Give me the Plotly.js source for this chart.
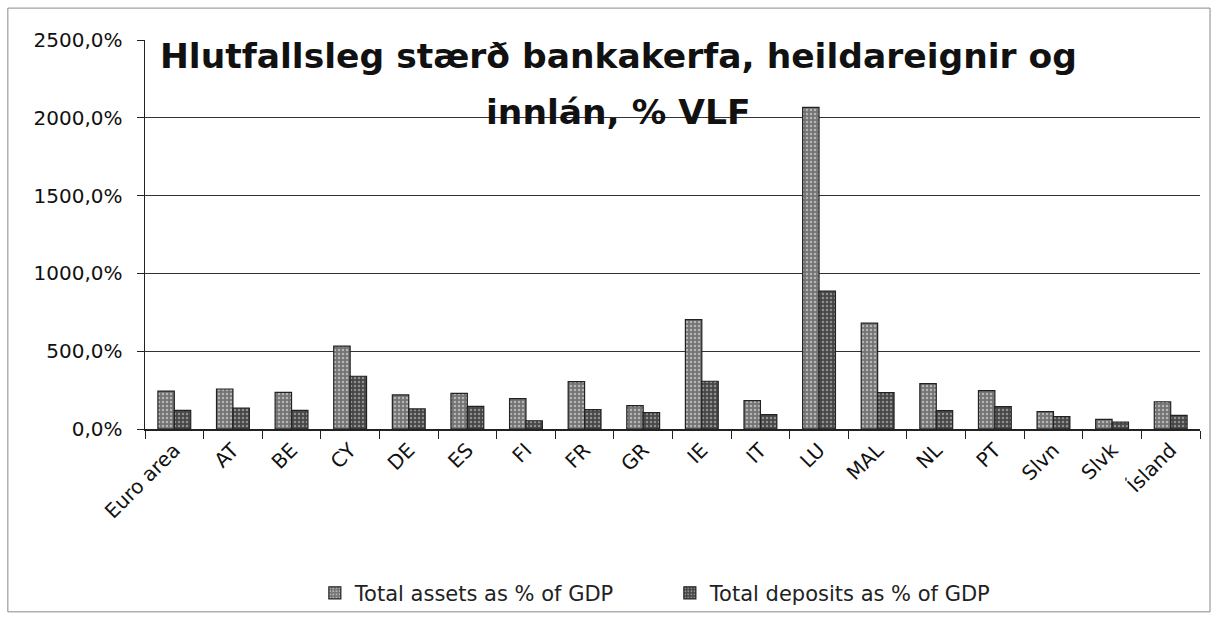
<!DOCTYPE html>
<html>
<head>
<meta charset="utf-8">
<script src="https://cdn.plot.ly/plotly-3.0.1.min.js"></script>
<style>html,body{margin:0;padding:0;background:#fff;}#chart{width:1219px;height:619px;}</style>
</head>
<body>
<div id="chart"></div>
<script>
const categories = ["Euro area","AT","BE","CY","DE","ES","FI","FR","GR","IE","IT","LU","MAL","NL","PT","Slvn","Slvk","Ísland"];
const totalAssets = [244,257,236,532,219,229,195,304,150,703,182,2067,680,292,247,112,62,175];
const totalDeposits = [120,135,120,339,129,146,53,124,105,307,92,887,234,118,144,80,45,88];
const seriesNames = ["Total assets as % of GDP","Total deposits as % of GDP"];
const yTicks = [0,500,1000,1500,2000,2500];
const yTickText = yTicks.map(v => v.toFixed(1).replace(".", ",") + "%");
const titleLines = ["Hlutfallsleg stærð bankakerfa, heildareignir og", "innlán, % VLF"];

const font = "'DejaVu Sans', sans-serif";
const data = [
  {type:"bar", name:seriesNames[0], x:categories, y:totalAssets,
   marker:{color:"#858585", line:{color:"#222", width:1.2}, pattern:{shape:".", fgcolor:"#b5b5b5", bgcolor:"#747474", size:4, solidity:0.3}}},
  {type:"bar", name:seriesNames[1], x:categories, y:totalDeposits,
   marker:{color:"#555555", line:{color:"#222", width:1.2}, pattern:{shape:".", fgcolor:"#909090", bgcolor:"#474747", size:4, solidity:0.3}}}
];
const layout = {
  width:1219, height:619,
  margin:{l:145, r:19, t:40, b:190, autoexpand:false},
  paper_bgcolor:"#fff", plot_bgcolor:"#fff",
  font:{family:font, color:"#111", size:20},
  bargap:0.44, bargroupgap:0,
  showlegend:true,
  legend:{orientation:"h", x:0.161, xanchor:"left", y:-0.422, yanchor:"middle", bgcolor:"rgba(0,0,0,0)", font:{size:21, color:"#222"}, traceorder:"normal", itemwidth:30, entrywidth:310, entrywidthmode:"pixels"},
  xaxis:{type:"category", automargin:false, showline:true, linecolor:"#222", linewidth:1.5, ticks:"outside", ticklen:8, tickcolor:"#222", tickson:"boundaries", tickangle:-45, tickfont:{size:20, color:"#111"}, showgrid:false, fixedrange:true},
  yaxis:{range:[0,2500], automargin:false, tickvals:yTicks, ticktext:yTickText, showline:true, linecolor:"#222", linewidth:1.5, ticks:"outside", ticklen:7, tickcolor:"#222", ticklabelstandoff:10, showgrid:true, gridcolor:"#333", gridwidth:1, zeroline:false, tickfont:{size:20, color:"#111"}, fixedrange:true},
  annotations:[
    {xref:"paper", yref:"paper", x:0.449, y:0.959, xanchor:"center", yanchor:"middle", showarrow:false,
     text:"<b>"+titleLines[0]+"</b>", font:{size:34.5, color:"#111", family:font}},
    {xref:"paper", yref:"paper", x:0.449, y:0.815, xanchor:"center", yanchor:"middle", showarrow:false,
     text:"<b>"+titleLines[1]+"</b>", font:{size:34.5, color:"#111", family:font}}
  ],
  shapes:[
    {type:"rect", xref:"paper", yref:"paper", x0:-0.13, x1:1.0095, y0:-0.47, y1:1.082, line:{color:"#888", width:1}}
  ]
};
Plotly.newPlot("chart", data, layout, {displayModeBar:false, staticPlot:true});
</script>
</body>
</html>
